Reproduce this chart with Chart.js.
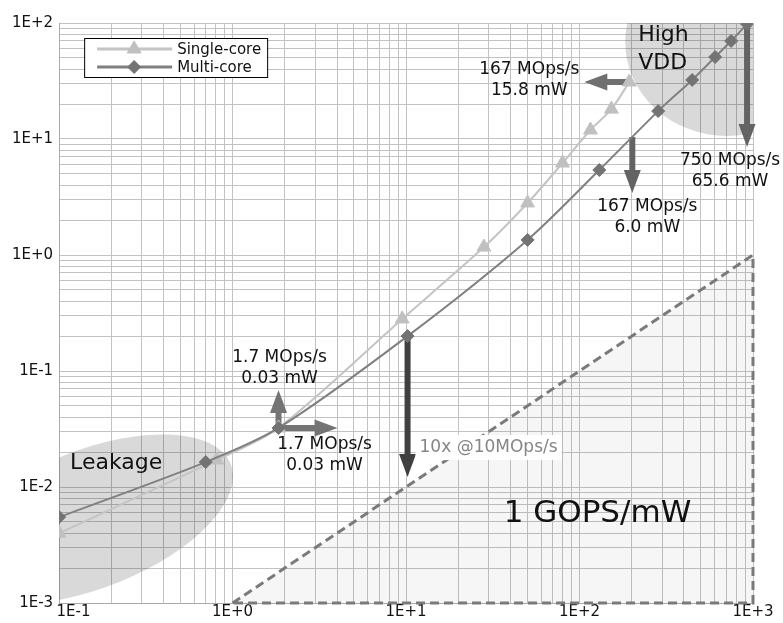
<!DOCTYPE html>
<html><head><meta charset="utf-8">
<script src="https://cdn.jsdelivr.net/npm/chart.js@4"></script>
<style>html,body{margin:0;padding:0;background:#fff}#wrap{width:783px;height:623px;position:relative}</style>
</head><body><div id="wrap"><canvas id="c"></canvas></div>
<script>
// ---- data ----
const xDecades = [0.1, 1, 10, 100, 1000];
const yDecades = [0.001, 0.01, 0.1, 1, 10, 100];
const xTickLabels = ['1E-1', '1E+0', '1E+1', '1E+2', '1E+3'];
const yTickLabels = ['1E-3', '1E-2', '1E-1', '1E+0', '1E+1', '1E+2'];
const seriesNames = ['Single-core', 'Multi-core'];
const singleX = [0.1, 0.81, 1.84, 9.5, 28.1, 50.2, 79.8, 115.6, 152.7, 193.6];
const singleY = [0.0040, 0.0171, 0.0323, 0.281, 1.17, 2.81, 6.21, 11.96, 18.1, 31.0];
const multiX = [0.1, 0.70, 1.84, 10.2, 50.2, 130, 284, 446, 605, 748, 924];
const multiY = [0.0055, 0.0164, 0.0323, 0.200, 1.35, 5.40, 17.4, 32.3, 50.9, 70, 98];
// 1 GOPS/mW region (power = throughput / 1000)
const gopsOutlineX = [1, 1000, 1000, 1];
const gopsOutlineY = [0.001, 1, 0.001, 0.001];

const FONT = '"DejaVu Sans", Verdana, sans-serif';
const pts = (xs, ys) => xs.map((x, i) => ({x, y: ys[i]}));
function decadeTicks(decs) {
  const t = [];
  for (let i = 0; i < decs.length; i++) {
    if (i === decs.length - 1) { t.push({value: decs[i]}); break; }
    for (let k = 1; k <= 9; k++) t.push({value: +(decs[i] * k).toPrecision(6)});
  }
  return t;
}
function decIndex(decs, v) { return decs.findIndex(d => Math.abs(Math.log10(v / d)) < 1e-6); }

function arrow(ctx, x0, y0, x1, y1, color) {
  const shaft = 6, hw = 8.5, hl = 23;
  const dx = x1 - x0, dy = y1 - y0, L = Math.hypot(dx, dy);
  const ux = dx / L, uy = dy / L;
  const bx = x1 - ux * hl, by = y1 - uy * hl;
  ctx.save();
  ctx.strokeStyle = color; ctx.fillStyle = color;
  ctx.lineWidth = shaft; ctx.lineCap = 'butt';
  ctx.beginPath(); ctx.moveTo(x0, y0); ctx.lineTo(bx + ux, by + uy); ctx.stroke();
  ctx.beginPath();
  ctx.moveTo(x1, y1);
  ctx.lineTo(bx - uy * hw, by + ux * hw);
  ctx.lineTo(bx + uy * hw, by - ux * hw);
  ctx.closePath(); ctx.fill();
  ctx.restore();
}

// annotations anchored on data points (series, index) with pixel offsets
const arrows = [
  {s: 0, i: 9, from: [0, 0], to: [-45, 0], color: '#707070'},
  {s: 1, i: 5, from: [33, -33], to: [33, 23], color: '#636363'},
  {s: 1, i: 10, from: [0, 0], to: [0, 123], color: '#636363'},
  {s: 1, i: 3, from: [0, 0], to: [0, 141], color: '#404040'},
  {s: 1, i: 2, from: [0, 0], to: [0, -38], color: '#747474'},
  {s: 1, i: 2, from: [0, 0], to: [59, 0], color: '#747474'}
];
const notes = [
  {s: 0, i: 9, off: [-100, -12], lines: ['167 MOps/s', '15.8 mW']},
  {s: 1, i: 5, off: [48, 37], lines: ['167 MOps/s', '6.0 mW']},
  {s: 1, i: 10, off: [-17, 137], lines: ['750 MOps/s', '65.6 mW']},
  {s: 1, i: 2, off: [1, -70], lines: ['1.7 MOps/s', '0.03 mW']},
  {s: 1, i: 2, off: [46, 17], lines: ['1.7 MOps/s', '0.03 mW']}
];

function anchor(chart, s, i) {
  const xs = s === 0 ? singleX : multiX, ys = s === 0 ? singleY : multiY;
  return [chart.scales.x.getPixelForValue(xs[i]), chart.scales.y.getPixelForValue(ys[i])];
}

const decor = {
  id: 'decor',
  beforeDatasetsDraw(chart) {
    const {ctx, chartArea: a, scales: {x, y}} = chart;
    ctx.save();
    ctx.beginPath(); ctx.rect(a.left, a.top, a.right - a.left, a.bottom - a.top); ctx.clip();
    // 1 GOPS/mW region fill
    ctx.fillStyle = 'rgba(20,50,20,0.045)';
    ctx.beginPath();
    gopsOutlineX.forEach((v, k) => {
      const px = x.getPixelForValue(v), py = y.getPixelForValue(gopsOutlineY[k]);
      k ? ctx.lineTo(px, py) : ctx.moveTo(px, py);
    });
    ctx.closePath(); ctx.fill();
    ctx.fillStyle = 'rgba(0,0,0,0.15)';
    // High VDD blob
    ctx.beginPath();
    ctx.ellipse(x.getPixelForValue(710), y.getPixelForValue(68.6), 102, 94, 0, 0, Math.PI * 2);
    ctx.fill();
    // Leakage blob (sheared ellipse)
    ctx.save();
    ctx.transform(1, -0.3, 0, 1, x.getPixelForValue(0.1528), y.getPixelForValue(0.0053));
    ctx.beginPath(); ctx.ellipse(0, 0, 142, 73, 0, 0, Math.PI * 2); ctx.fill();
    ctx.restore();
    ctx.restore();
    ctx.save();
    ctx.fillStyle = '#111';
    ctx.font = '22px ' + FONT; ctx.textAlign = 'left'; ctx.textBaseline = 'middle';
    const hx = x.getPixelForValue(710), hy = y.getPixelForValue(68.6);
    ctx.fillText('High', hx - 89, hy - 7);
    ctx.fillText('VDD', hx - 89, hy + 21);
    ctx.fillText('Leakage', x.getPixelForValue(0.1528) - 21, y.getPixelForValue(0.0053) - 56);
    ctx.restore();
    for (const ar of arrows) {
      const [px, py] = anchor(chart, ar.s, ar.i);
      arrow(ctx, px + ar.from[0], py + ar.from[1], px + ar.to[0], py + ar.to[1], ar.color);
    }
  },
  afterDatasetsDraw(chart) {
    const {ctx, chartArea: a, scales: {x, y}} = chart;
    ctx.save();
    ctx.font = '17px ' + FONT; ctx.textAlign = 'center'; ctx.textBaseline = 'middle';
    ctx.fillStyle = '#111';
    for (const n of notes) {
      const [px, py] = anchor(chart, n.s, n.i);
      n.lines.forEach((t, k) => ctx.fillText(t, px + n.off[0], py + n.off[1] + k * 21));
    }
    // 10x label
    const [dx, dy] = anchor(chart, 1, 3);
    const txt = '10x @10MOps/s';
    ctx.textAlign = 'left';
    const w = ctx.measureText(txt).width;
    ctx.fillStyle = '#fff';
    ctx.fillRect(dx + 8, dy + 99, w + 8, 25);
    ctx.fillStyle = '#858585';
    ctx.fillText(txt, dx + 12, dy + 111);
    // 1 GOPS/mW
    ctx.fillStyle = '#111'; ctx.textAlign = 'center';
    ctx.font = '31px ' + FONT;
    ctx.fillText('1 GOPS/mW', x.getPixelForValue(126.9), y.getPixelForValue(0.00585));
    // legend
    const lx = a.left + 25, ly = a.top + 15;
    ctx.fillStyle = '#fff'; ctx.fillRect(lx, ly, 183, 39);
    ctx.strokeStyle = '#000'; ctx.lineWidth = 1; ctx.strokeRect(lx + 0.5, ly + 0.5, 183, 39);
    const ds = chart.data.datasets;
    [0, 1].forEach(k => {
      const d = ds[k], ry = ly + 11 + k * 18;
      ctx.strokeStyle = d.borderColor; ctx.lineWidth = 3;
      ctx.beginPath(); ctx.moveTo(lx + 13, ry); ctx.lineTo(lx + 88, ry); ctx.stroke();
      ctx.fillStyle = d.pointBackgroundColor; ctx.strokeStyle = d.pointBorderColor; ctx.lineWidth = 1;
      Chart.helpers.drawPoint(ctx, {pointStyle: d.pointStyle, radius: d.pointRadius, borderWidth: 1, rotation: 0}, lx + 50, ry);
      ctx.fillStyle = '#111'; ctx.font = '15px ' + FONT; ctx.textAlign = 'left';
      ctx.fillText(seriesNames[k], lx + 93, ry + 1);
    });
    ctx.restore();
  }
};

const gridColor = '#c2c2c2';
new Chart(document.getElementById('c'), {
  type: 'scatter',
  data: {
    datasets: [
      {label: seriesNames[0], data: pts(singleX, singleY), showLine: true, tension: 0.3,
       borderColor: '#c4c4c4', borderWidth: 2, pointStyle: 'triangle', pointRadius: 8,
       pointBackgroundColor: '#c0c0c0', pointBorderColor: '#c0c0c0', pointBorderWidth: 1, order: 2},
      {label: seriesNames[1], data: pts(multiX, multiY), showLine: true, tension: 0.3,
       borderColor: '#808080', borderWidth: 2, pointStyle: 'rectRot', pointRadius: 6.5,
       pointBackgroundColor: '#737373', pointBorderColor: '#737373', pointBorderWidth: 1, order: 1},
      {label: '1 GOPS/mW', data: pts(gopsOutlineX, gopsOutlineY), showLine: true, tension: 0,
       borderColor: '#7a7a7a', borderWidth: 3, borderDash: [9, 5], pointRadius: 0,
       fill: false, clip: false, order: 3}
    ]
  },
  options: {
    responsive: true, maintainAspectRatio: false, animation: false,
    layout: {padding: {left: 6, right: 30, top: 23, bottom: 1}},
    plugins: {legend: {display: false}, tooltip: {enabled: false}},
    scales: {
      x: {
        type: 'logarithmic', min: xDecades[0], max: xDecades[xDecades.length - 1],
        afterBuildTicks: ax => { ax.ticks = decadeTicks(xDecades); },
        grid: {color: gridColor, lineWidth: 1, drawTicks: false},
        border: {color: '#aaaaaa'},
        ticks: {autoSkip: false, maxRotation: 0, minRotation: 0, padding: 2, color: '#111',
          font: {family: FONT, size: 15, lineHeight: 1},
          callback: v => { const i = decIndex(xDecades, v); return i < 0 ? '' : (i === 0 ? '\u00a0'.repeat(6) + xTickLabels[i] : xTickLabels[i]); }}
      },
      y: {
        type: 'logarithmic', min: yDecades[0], max: yDecades[yDecades.length - 1],
        afterBuildTicks: ax => { ax.ticks = decadeTicks(yDecades); },
        grid: {color: gridColor, lineWidth: 1, drawTicks: false},
        border: {color: '#aaaaaa'},
        ticks: {autoSkip: false, padding: 6, color: '#111', font: {family: FONT, size: 15},
          callback: v => { const i = decIndex(yDecades, v); return i < 0 ? '' : yTickLabels[i]; }}
      }
    }
  },
  plugins: [decor]
});
</script></body></html>
